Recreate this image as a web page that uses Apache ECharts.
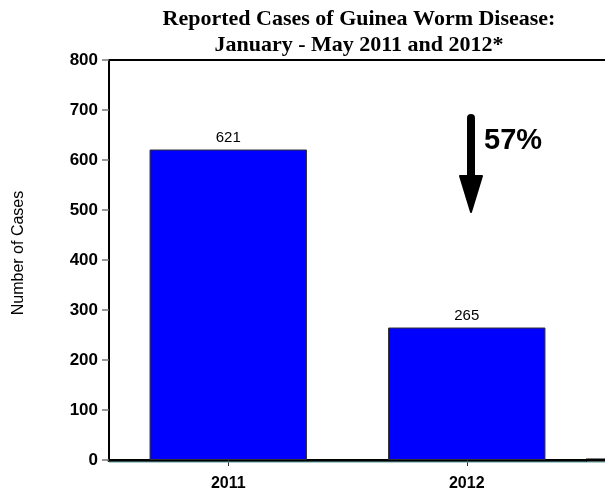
<!DOCTYPE html>
<html>
<head>
<meta charset="utf-8">
<script src="https://cdn.jsdelivr.net/npm/echarts@6/dist/echarts.min.js"></script>
<style>
  html, body { margin: 0; padding: 0; background: #fff; }
  #chart { width: 605px; height: 491px; }
</style>
</head>
<body>
<div id="chart"></div>
<script>
const years = ['2011', '2012'];
const cases = [621, 265];
const yTicks = [0, 100, 200, 300, 400, 500, 600, 700, 800];
const titleLines = ['Reported Cases of Guinea Worm Disease:', 'January - May 2011 and 2012*'];
const yAxisTitle = 'Number of Cases';
const changeLabel = '57%';

const chart = echarts.init(document.getElementById('chart'), null, { renderer: 'canvas' });

const gridLeft = 109, gridTop = 60, gridRight = 19, gridBottom = 31;
const W = 605, H = 491;

chart.setOption({
  animation: false,
  backgroundColor: '#ffffff',
  title: {
    text: titleLines.join('\n'),
    left: 354,
    textAlign: 'center',
    top: 1,
    textStyle: {
      fontFamily: 'Liberation Serif',
      fontWeight: 'bold',
      fontSize: 22,
      lineHeight: 26,
      color: '#000'
    }
  },
  grid: {
    left: gridLeft, top: gridTop, right: gridRight, bottom: gridBottom,
    containLabel: false,
    outerBoundsMode: 'none'
  },
  xAxis: {
    type: 'category',
    data: years,
    axisLine: { lineStyle: { color: '#000', width: 3 } },
    axisTick: { show: true, alignWithLabel: true, length: 6, lineStyle: { color: '#333', width: 1 } },
    axisLabel: {
      fontFamily: 'Liberation Sans', fontWeight: 'bold', fontSize: 16, color: '#000', margin: 16
    },
    splitLine: { show: false }
  },
  yAxis: {
    type: 'value',
    min: yTicks[0],
    max: yTicks[yTicks.length - 1],
    interval: yTicks[1] - yTicks[0],
    axisLine: { show: true, lineStyle: { color: '#000', width: 2 } },
    axisTick: { show: true, length: 7, lineStyle: { color: '#777', width: 1.5 } },
    axisLabel: {
      fontFamily: 'Liberation Sans', fontWeight: 'bold', fontSize: 17, color: '#000', margin: 11
    },
    splitLine: { show: false }
  },
  series: [{
    type: 'bar',
    data: cases,
    barWidth: '66%',
    itemStyle: { color: '#0000ff', borderColor: '#333', borderWidth: 1 },
    label: {
      show: true, position: 'top', distance: 4,
      fontFamily: 'Liberation Sans', fontSize: 15, color: '#000'
    }
  }],
  graphic: [
    // vertical axis title
    { type: 'text', x: 19, y: 253, rotation: Math.PI / 2,
      style: { text: yAxisTitle, fontFamily: 'Liberation Sans', fontSize: 16, fill: '#000',
               align: 'center', verticalAlign: 'middle' } },
    // frame lines running out to the right edge
    { type: 'line', shape: { x1: gridLeft, y1: gridTop, x2: W, y2: gridTop },
      style: { stroke: '#000', lineWidth: 2 }, z: 10 },
    { type: 'line', shape: { x1: W - gridRight, y1: H - gridBottom, x2: W, y2: H - gridBottom },
      style: { stroke: '#000', lineWidth: 3 }, z: 10 },
    { type: 'line', shape: { x1: gridLeft, y1: H - gridBottom + 2, x2: W, y2: H - gridBottom + 2 },
      style: { stroke: '#5f9ea0', lineWidth: 1 }, z: 9 },
    // downward arrow with percentage change
    { type: 'line', shape: { x1: 471, y1: 118, x2: 471, y2: 180 },
      style: { stroke: '#000', lineWidth: 8, lineCap: 'round' }, z: 10 },
    { type: 'polygon', shape: { points: [[460, 176], [482, 176], [471, 212]] },
      style: { fill: '#000', stroke: '#000', lineWidth: 2, lineJoin: 'round' }, z: 10 },
    { type: 'text', left: 484, top: 126,
      style: { text: changeLabel, fontFamily: 'Liberation Sans', fontWeight: 'bold', fontSize: 29, fill: '#000' }, z: 10 }
  ]
});
</script>
</body>
</html>
